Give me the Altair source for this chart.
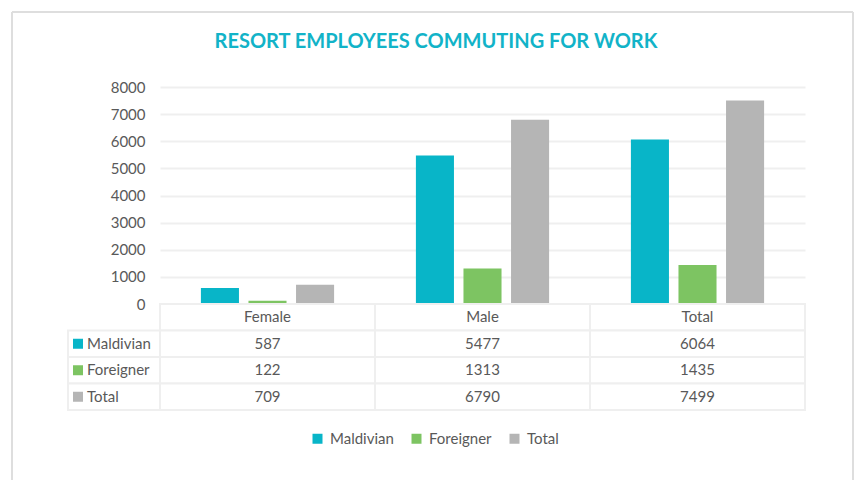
import altair as alt
import pandas as pd

categories = ["Female", "Male", "Total"]
series_names = ["Maldivian", "Foreigner", "Total"]
maldivian = [587, 5477, 6064]
foreigner = [122, 1313, 1435]
total = [709, 6790, 7499]
y_ticks = [0, 1000, 2000, 3000, 4000, 5000, 6000, 7000, 8000]
colors = ["#08B5C8", "#7DC462", "#B5B5B5"]
title_text = "RESORT EMPLOYEES COMMUTING FOR WORK"

values = {"Maldivian": maldivian, "Foreigner": foreigner, "Total": total}
records = []
for s in series_names:
    for c, v in zip(categories, values[s]):
        records.append({"category": c, "series": s, "row": s, "value": v, "label": str(v)})
df = pd.DataFrame(records)

header_key = "header"
rows = [header_key] + series_names
header_df = pd.DataFrame({"category": categories, "row": [header_key] * 3, "label": categories})
cells_df = pd.concat([header_df[["category", "row"]], df[["category", "row"]]], ignore_index=True)
rowlabels_df = pd.DataFrame({"series": series_names, "row": series_names})
one = pd.DataFrame({"title": [title_text]})

FONT = "Lato"
TXT = "#595959"
GRID = "#EFEFEF"
FRAME = "#DEDEDE"

color_scale = alt.Scale(domain=series_names, range=colors)
x_scale = alt.Scale(domain=categories, paddingInner=0, paddingOuter=0)

bars = alt.Chart(df).mark_bar().encode(
    x=alt.X("category:N", scale=x_scale, axis=None),
    xOffset=alt.XOffset("series:N", scale=alt.Scale(domain=series_names, paddingInner=0.2, paddingOuter=0.86)),
    y=alt.Y("value:Q", scale=alt.Scale(domain=[0, 8000]),
            axis=alt.Axis(values=y_ticks, format="d", title=None, domain=False, ticks=False, labelPadding=15,
                          grid=True, gridColor=GRID, gridWidth=2, labelColor=TXT,
                          labelFontSize=15, labelFont=FONT)),
    color=alt.Color("series:N", scale=color_scale,
                    legend=alt.Legend(orient="none", legendX=150, legendY=344, direction="horizontal",
                                      title=None, symbolType="square", symbolSize=100,
                                      symbolStrokeWidth=0, labelFont=FONT, labelFontSize=15,
                                      labelColor=TXT, columnPadding=15, labelOffset=5)),
)

title_mark = alt.Chart(one).mark_text(font=FONT, fontSize=20, fontWeight="bold", color="#12B3C8",
                                      align="center", baseline="middle").encode(
    x=alt.value(276), y=alt.value(-45), text="title:N")

frame_left = alt.Chart(one).mark_rule(color=FRAME, strokeWidth=2).encode(
    x=alt.value(-148), y=alt.value(-75), y2=alt.value(393))
frame_top = alt.Chart(one).mark_rule(color=FRAME, strokeWidth=2).encode(
    x=alt.value(-148), x2=alt.value(693), y=alt.value(-75))
frame_right = alt.Chart(one).mark_rule(color=FRAME, strokeWidth=2).encode(
    x=alt.value(693), y=alt.value(-75), y2=alt.value(393))

top = alt.layer(bars, title_mark, frame_left, frame_top, frame_right).properties(width=645, height=217)

y_tab = alt.Y("row:N", scale=alt.Scale(domain=rows, paddingInner=0, paddingOuter=0), axis=None)
x_tab = alt.X("category:N", scale=x_scale, axis=None)

cells = alt.Chart(cells_df).mark_rect(fill="white", stroke=GRID, strokeWidth=2).encode(x=x_tab, y=y_tab)
label_cells = alt.Chart(rowlabels_df).mark_rect(fill="white", stroke=GRID, strokeWidth=2).encode(
    x=alt.value(-92), x2=alt.value(0), y=y_tab)
value_text = alt.Chart(df).mark_text(font=FONT, fontSize=15, color=TXT).encode(
    x=x_tab, y=y_tab, text="label:N")
header_text = alt.Chart(header_df).mark_text(font=FONT, fontSize=15, color=TXT).encode(
    x=x_tab, y=y_tab, text="label:N")
squares = alt.Chart(rowlabels_df).mark_square(size=100, opacity=1, strokeWidth=0).encode(
    x=alt.value(-82), y=y_tab, color=alt.Color("series:N", scale=color_scale))
label_text = alt.Chart(rowlabels_df).mark_text(font=FONT, fontSize=15, color=TXT, align="left").encode(
    x=alt.value(-73), y=y_tab, text="series:N")

table = alt.layer(cells, label_cells, value_text, header_text, squares, label_text).properties(
    width=645, height=106)

chart = alt.vconcat(top, table, spacing=0, bounds="flush").properties(
    padding={"left": 3, "top": 3, "right": 0, "bottom": 0},
    background="white",
).configure_view(stroke=None)

chart.save("out.html", embed_options={"renderer": "svg", "actions": False})
